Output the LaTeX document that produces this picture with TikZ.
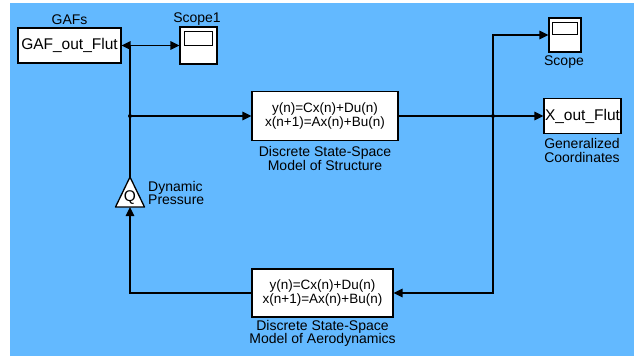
\documentclass[tikz,border=0pt]{standalone}
\usepackage{fontspec}
\setmainfont{Liberation Sans}
\usetikzlibrary{arrows.meta, calc}

\definecolor{simblue}{RGB}{99,185,255}

\tikzset{
  block/.style={draw, fill=white, line width=1.2pt, inner sep=0pt, align=center},
  wire/.style={line width=1.3pt},
  sig/.style={wire, -{Triangle[length=9pt, width=8.5pt]}},
  lbl/.style={align=center, inner sep=0pt},
}

\newcommand{\simfont}{\fontsize{14}{13.5}\selectfont}
\newcommand{\eqfont}{\fontsize{13.5}{13.5}\selectfont}
\newcommand{\namefont}{\fontsize{15.5}{15.5}\selectfont}

\begin{document}
\begin{tikzpicture}[x=1pt, y=-1pt, font=\simfont]
    \useasboundingbox (0, 0) rectangle (634, 356);
    \fill[white] (0, 0) rectangle (634, 356);
    \fill[simblue] (10, 3) rectangle (634, 356);

    % Blocks
    \node[block, font=\namefont, minimum width=103, minimum height=35] (gaf) at (69.5, 45.5) {GAF\_out\_Flut};
    \node[block, minimum width=37, minimum height=37] (scopeA) at (198.5, 45.5) {};
    \draw[line width=1pt] ($(scopeA.north west) + (5, 5)$) rectangle ($(scopeA.north east) + (-5, 19)$);

    \node[block, font=\eqfont, minimum width=146, minimum height=49] (structure) at (325, 116)
      {y(n)=Cx(n)+Du(n)\\x(n+1)=Ax(n)+Bu(n)};
    \node[block, font=\eqfont, minimum width=141, minimum height=48] (aero) at (322.5, 293)
      {y(n)=Cx(n)+Du(n)\\x(n+1)=Ax(n)+Bu(n)};

    \node[block, font=\namefont, minimum width=77, minimum height=35] (xout) at (582.5, 116) {X\_out\_Flut};
    \node[block, minimum width=32, minimum height=34] (scope) at (565, 35) {};
    \draw[line width=1pt] ($(scope.north west) + (4, 5)$) rectangle ($(scope.north east) + (-4, 17)$);

    % Gain
    \draw[wire, fill=white, line join=round] (130, 177) -- (144.5, 207) -- (115.5, 207) -- cycle;
    \node[inner sep=0pt, font=\namefont] (gain) at (130, 197.5) {Q};
    \coordinate (gainout) at (130, 177);
    \coordinate (gainin) at (130, 207);

    % Branch points
    \coordinate (jA) at (130, 45.5);
    \coordinate (jB) at (130, 116);
    \coordinate (jC) at (493, 116);

    % Wires
    \draw[sig] (jA) -- (gaf.east);
    \draw[sig] (jA) -- (scopeA.west);
    \draw[wire] (jA) -- (gainout);
    \draw[sig] (jB) -- (structure.west);
    \draw[wire] (structure.east) -- (jC);
    \draw[sig] (jC) -- (xout.west);
    \draw[sig] (jC) |- (scope.west);
    \draw[sig] (jC) |- (aero.east);
    \draw[sig] (aero.west) -| (gainin);
    \fill (jB) circle (2);
    \fill (jC) circle (2);

    % The labels
    \node[lbl] (gaflbl) at (69.5, 20) {GAFs};
    \node[lbl] (scopeAlbl) at (197, 19) {Scope1};
    \node[lbl] (scopelbl) at (564, 62) {Scope};
    \node[lbl] (xoutlbl) at (582, 150.5) {Generalized\\Coordinates};
    \node[lbl] (structlbl) at (325, 158.5) {Discrete State-Space\\Model of Structure};
    \node[lbl] (aerolbl) at (322.5, 333.5) {Discrete State-Space\\Model of Aerodynamics};
    \node[lbl, align=left, anchor=west] (gainlbl) at (148, 193) {Dynamic\\Pressure};
\end{tikzpicture}
\end{document}
